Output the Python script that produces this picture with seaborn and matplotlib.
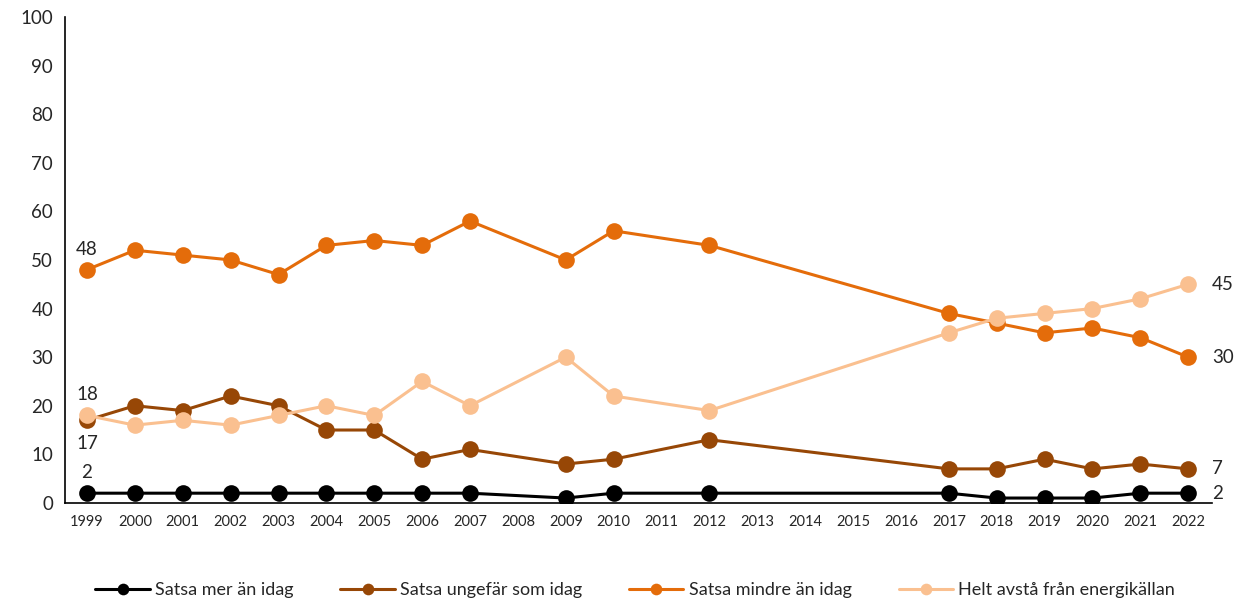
import pandas as pd
import matplotlib.pyplot as plt
import seaborn as sns

# Data
years = [1999, 2000, 2001, 2002, 2003, 2004, 2005, 2006, 2007, 2009, 2010, 2012,
         2017, 2018, 2019, 2020, 2021, 2022]
satsa_mer = [2, 2, 2, 2, 2, 2, 2, 2, 2, 1, 2, 2, 2, 1, 1, 1, 2, 2]
satsa_ungefar = [17, 20, 19, 22, 20, 15, 15, 9, 11, 8, 9, 13, 7, 7, 9, 7, 8, 7]
satsa_mindre = [48, 52, 51, 50, 47, 53, 54, 53, 58, 50, 56, 53, 39, 37, 35, 36, 34, 30]
helt_avsta = [18, 16, 17, 16, 18, 20, 18, 25, 20, 30, 22, 19, 35, 38, 39, 40, 42, 45]

series_names = ["Satsa mer än idag", "Satsa ungefär som idag",
                "Satsa mindre än idag", "Helt avstå från energikällan"]
colors = ["#000000", "#974706", "#E46C0A", "#FAC090"]
all_years = list(range(1999, 2023))

frames = []
for name, vals in zip(series_names, [satsa_mer, satsa_ungefar, satsa_mindre, helt_avsta]):
    frames.append(pd.DataFrame({"year": years, "value": vals, "serie": name}))
df = pd.concat(frames, ignore_index=True)

sns.set_style("white")
plt.rcParams['font.family'] = ['Lato', 'DejaVu Sans']

fig = plt.figure(figsize=(12.42, 6.03), dpi=100)
ax = fig.add_axes([0.0523, 0.166, 0.9237, 0.8058])

sns.lineplot(data=df, x="year", y="value", hue="serie", hue_order=series_names,
             palette=colors, marker="o", markersize=12, markeredgewidth=0,
             linewidth=2.2, ax=ax)

ax.set_xlim(1999 - 0.46, 2022 + 0.5)
ax.set_ylim(0, 100)
ax.set_xticks(all_years)
ax.set_xticklabels([str(y) for y in all_years], fontsize=10.5)
ax.set_yticks(range(0, 101, 10))
ax.set_yticklabels([str(v) for v in range(0, 101, 10)], fontsize=13.5)
ax.set_xlabel("")
ax.set_ylabel("")
for s in ["top", "right"]:
    ax.spines[s].set_visible(False)
for s in ["left", "bottom"]:
    ax.spines[s].set_color("black")
    ax.spines[s].set_linewidth(1.2)
ax.tick_params(axis="both", direction="out", length=5, width=1.2, color="black")
ax.tick_params(axis="x", pad=4)

# Value labels for first and last year
fs = 13.5
ax.text(1999, satsa_mindre[0] + 2.5, str(satsa_mindre[0]), ha="center", va="bottom", fontsize=fs)
ax.text(1999, helt_avsta[0] + 2.5, str(helt_avsta[0]), ha="center", va="bottom", fontsize=fs)
ax.text(1999, satsa_ungefar[0] - 3, str(satsa_ungefar[0]), ha="center", va="top", fontsize=fs)
ax.text(1999, satsa_mer[0] + 2.5, str(satsa_mer[0]), ha="center", va="bottom", fontsize=fs)
for vals in [satsa_mer, satsa_ungefar, satsa_mindre, helt_avsta]:
    ax.text(2022 + 0.5, vals[-1], str(vals[-1]), ha="left", va="center", fontsize=fs)

ax.legend(loc="center", bbox_to_anchor=(0.497, -0.18), ncol=4, frameon=False,
          fontsize=13, handlelength=3.0, columnspacing=2.6, handletextpad=0.3,
          markerscale=0.7)

fig.savefig("out.png", dpi=100)
